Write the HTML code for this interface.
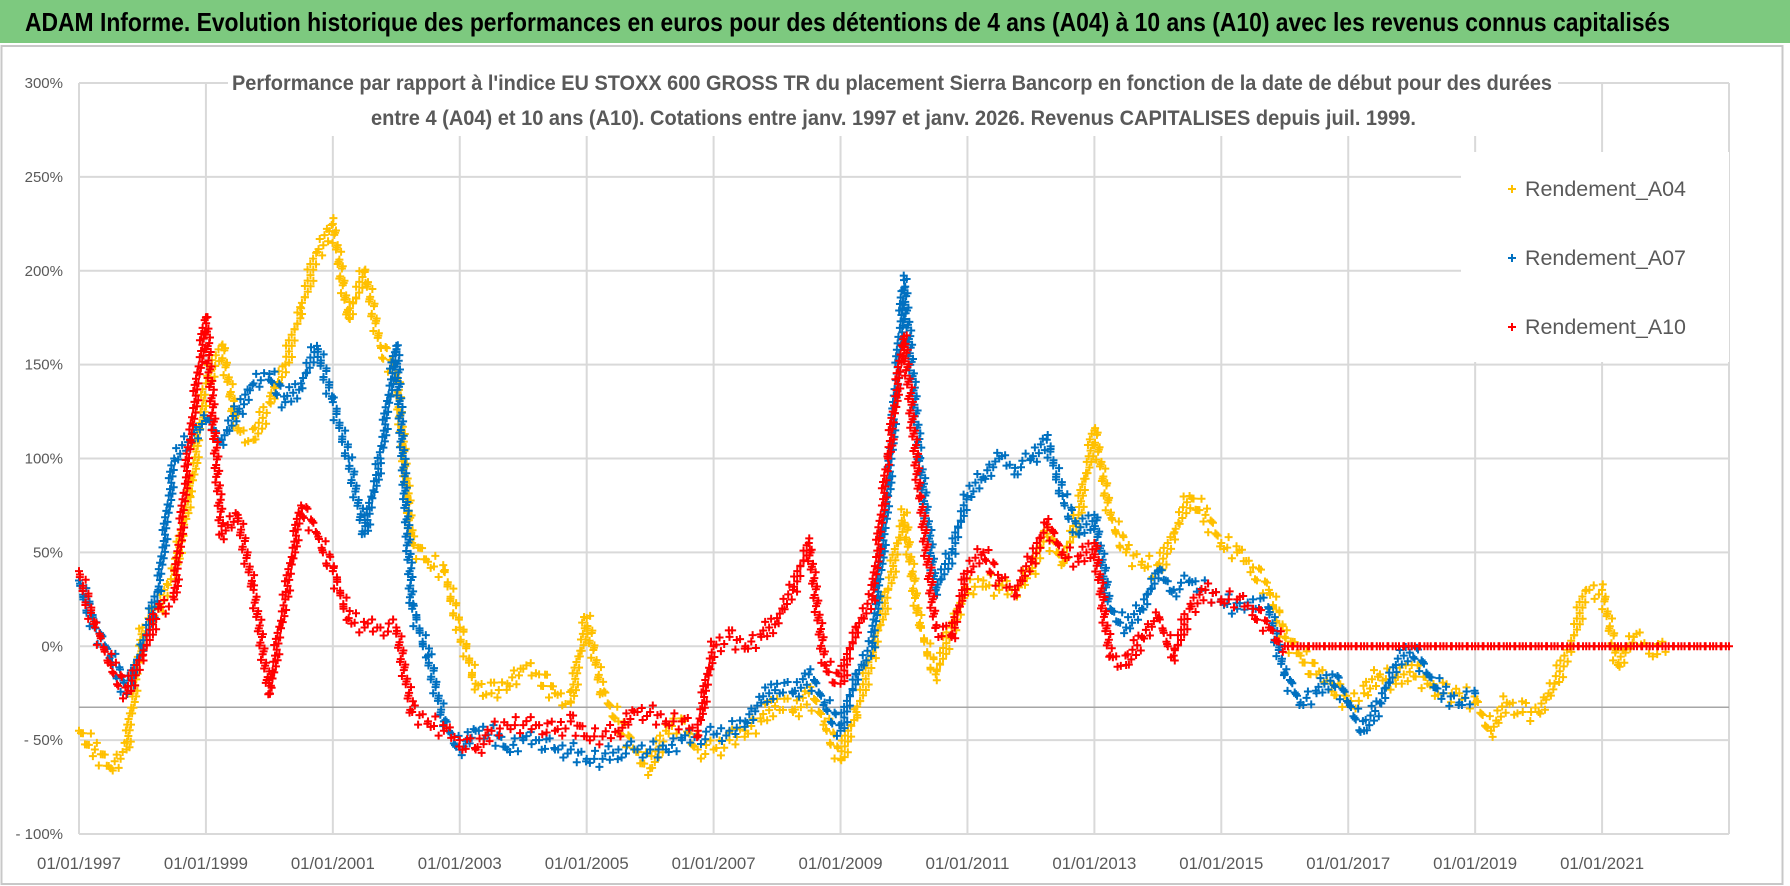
<!DOCTYPE html>
<html><head><meta charset="utf-8"><style>
html,body{margin:0;padding:0;background:#fff;}
svg{display:block;font-family:"Liberation Sans Narrow","Liberation Sans",sans-serif;}
</style></head><body>
<svg id="chart" width="1790" height="886" viewBox="0 0 1790 886">
<rect x="0" y="0" width="1790" height="886" fill="#fff"/>
<rect x="0" y="0" width="1790" height="43" fill="#7dc97f"/>
<text x="25" y="31" font-size="26" font-weight="bold" fill="#000" textLength="1645" lengthAdjust="spacingAndGlyphs">ADAM Informe. Evolution historique des performances en euros pour des détentions de 4 ans (A04) à 10 ans (A10) avec les revenus connus capitalisés</text>
<rect x="1.5" y="46" width="1781" height="838" fill="none" stroke="#c8c8c8" stroke-width="2"/>
<g id="grid"></g>
<g id="marks"></g>
<rect x="228" y="66" width="1330" height="70" fill="#fff"/>
<text x="232" y="90" font-size="21" font-weight="bold" fill="#595959" textLength="1320" lengthAdjust="spacingAndGlyphs">Performance par rapport à l'indice EU STOXX 600 GROSS TR  du placement Sierra Bancorp en fonction de la date de début pour des durées</text>
<text x="371" y="125" font-size="21" font-weight="bold" fill="#595959" textLength="1045" lengthAdjust="spacingAndGlyphs">entre 4 (A04) et 10 ans (A10). Cotations entre janv. 1997 et janv. 2026. Revenus CAPITALISES depuis juil. 1999.</text>
<g id="legend">
<rect x="1461" y="152" width="268" height="210" fill="#fff"/>
</g>
<g id="axes"></g>
</svg>
<script>
const startYear = 1997;
const stepYears = 0.25;
const a04Values = [-45,-55,-65,-55, 10,20,40,80, 140,160,115,110, 130,150,180,210, 225,175,200,160, 145,55,45,40, 10,-20,-25,-20, -12,-15,-25,-30, 15,-25,-40,-55, -65,-45,-40,-55, -55,-50,-45,-40, -28,-35,-25,-40, -60,-35,-5,30, 70,10,-15,10, 30,35,30,30, 40,60,45,70, 115,70,50,45, 40,60,80,70, 55,50,42,30, 5,-5,-15,-20, -30,-25,-15,-20, -10,-20,-25,-25, -30,-45,-30,-35, -35,-20,0,30, 30,-10,5,0, -3];
const a07Values = [35,10,-5,-25, 0,30,100,110, 120,110,125,140, 145,130,140,160, 130,100,60,100, 160,20,-5,-40, -55,-45,-45,-55, -50,-50,-55,-55, -60,-60,-55,-55, -55,-55,-50,-48, -47,-45,-40,-30, -20,-25,-15,-30, -45,-15,0,80, 195,100,30,50, 80,90,100,95, 100,110,80,60, 70,20,10,20, 40,30,35,30, 25,20,25,20, -15,-30,-25,-15, -30,-45,-30,-10, 0,-15,-25,-30, -25];
const a10Values = [40,10,-10,-25, -5,20,25,110, 175,60,70,30, -25,25,75,60, 40,15,10,10, 10,-35,-40,-45, -50,-55,-45,-42, -42,-42,-45,-40, -48,-48,-45,-35, -35,-40,-40,-45, 0,5,0,5, 15,30,55,-10, -20,10,25,100, 165,80,10,5, 40,50,35,30, 45,65,50,45, 55,-5,-10,5, 15,-5,20,30, 25,25,20,10, 0,0,0,0, 0,0,0,0, 0,0,0,0, 0,0,0,0, 0,0,0,0, 0,0,0,0, 0,0,0,0, 0];
const seriesNames = ["Rendement_A04","Rendement_A07","Rendement_A10"];
const yTicks = [300,250,200,150,100,50,0,-50,-100];
const yTickLabels = ["300%","250%","200%","150%","100%","50%","0%","- 50%","- 100%"];
const xTickYears = [1997,1999,2001,2003,2005,2007,2009,2011,2013,2015,2017,2019,2021];
const xTickLabels = ["01/01/1997","01/01/1999","01/01/2001","01/01/2003","01/01/2005","01/01/2007","01/01/2009","01/01/2011","01/01/2013","01/01/2015","01/01/2017","01/01/2019","01/01/2021"];

const NS = "http://www.w3.org/2000/svg";
const X0 = 79, X1 = 1729, Y_TOP = 83, Y_BOT = 834;
const xMin = 1997, xMax = 2023, yMin = -100, yMax = 300;
function xs(yr){ return X0 + (yr - xMin) / (xMax - xMin) * (X1 - X0); }
function ys(v){ return Y_BOT - (v - yMin) / (yMax - yMin) * (Y_BOT - Y_TOP); }
function mk(tag, attrs, parent){ const e = document.createElementNS(NS, tag); for (const k in attrs) e.setAttribute(k, attrs[k]); parent.appendChild(e); return e; }

const grid = document.getElementById('grid');
const axes = document.getElementById('axes');
yTicks.forEach((v, i) => {
  const l = mk('line', {x1: X0, x2: X1, y1: ys(v), y2: ys(v), stroke: '#d9d9d9', 'stroke-width': 2}, grid);
  
  
  const t = mk('text', {x: 63, y: ys(v) + 5, 'text-anchor': 'end', 'font-size': 15, fill: '#595959'}, axes);
  t.textContent = yTickLabels[i];
  
  
});
xTickYears.forEach((yr, i) => {
  const l = mk('line', {x1: xs(yr), x2: xs(yr), y1: Y_TOP, y2: Y_BOT, stroke: '#d9d9d9', 'stroke-width': 2}, grid);
  
  
  const t = mk('text', {x: xs(yr), y: 869, 'text-anchor': 'middle', 'font-size': 17, fill: '#595959', textLength: 84, lengthAdjust: 'spacingAndGlyphs'}, axes);
  t.textContent = xTickLabels[i];
  
  
});
[2023].forEach(yr => {
  const l = mk('line', {x1: xs(yr), x2: xs(yr), y1: Y_TOP, y2: Y_BOT, stroke: '#d9d9d9', 'stroke-width': 2}, grid);
  
  
});
const refLine = mk('line', {x1: X0, x2: X1, y1: ys(-32.5), y2: ys(-32.5), stroke: '#a6a6a6', 'stroke-width': 1.5}, grid);



const marks = document.getElementById('marks');
function plus(g, cx, cy, color){
  return mk('path', {d: `M${cx-4},${cy}h8M${cx},${cy-4}v8`, stroke: color, 'stroke-width': 2, fill: 'none'}, g);
}
function drawSeries(values, color, name, spread){
  const g = mk('g', {}, marks);
  
  
  for (let i = 0; i < values.length; i++) {
    const x = xs(startYear + i * stepYears), y = ys(values[i]);
    const p = plus(g, x, y, color);
    
    
    if (i + 1 < values.length) {
      const x2 = xs(startYear + (i + 1) * stepYears), y2 = ys(values[i + 1]);
      const n = Math.max(4, Math.ceil(Math.hypot(x2 - x, y2 - y) / 3.5));
      const s = values[i] === 0 && values[i + 1] === 0 ? 0 : spread;
      for (let k = 1; k < n; k++) {
        const f = k / n;
        const dy = (((k * 7 + i * 3) % 5) - 2) * s;
        const dx = ((k % 3) - 1) * 2;
        plus(g, x + (x2 - x) * f + dx, y + (y2 - y) * f + dy, color);
      }
    }
  }
}
drawSeries(a04Values, '#ffc000', 'series-a04', 4.5);
drawSeries(a07Values, '#0070c0', 'series-a07', 4);
drawSeries(a10Values, '#ff0000', 'series-a10', 4);

const legend = document.getElementById('legend');
const legendColors = ['#ffc000', '#0070c0', '#ff0000'];
const legendY = [189, 258, 327];
seriesNames.forEach((n, i) => {
  const m = plus(legend, 1512, legendY[i], legendColors[i]);
  
  
  const t = mk('text', {x: 1525, y: legendY[i] + 7, 'font-size': 21, fill: '#595959', textLength: 161, lengthAdjust: 'spacingAndGlyphs'}, legend);
  t.textContent = n;
  
  
});
</script>
</body></html>
